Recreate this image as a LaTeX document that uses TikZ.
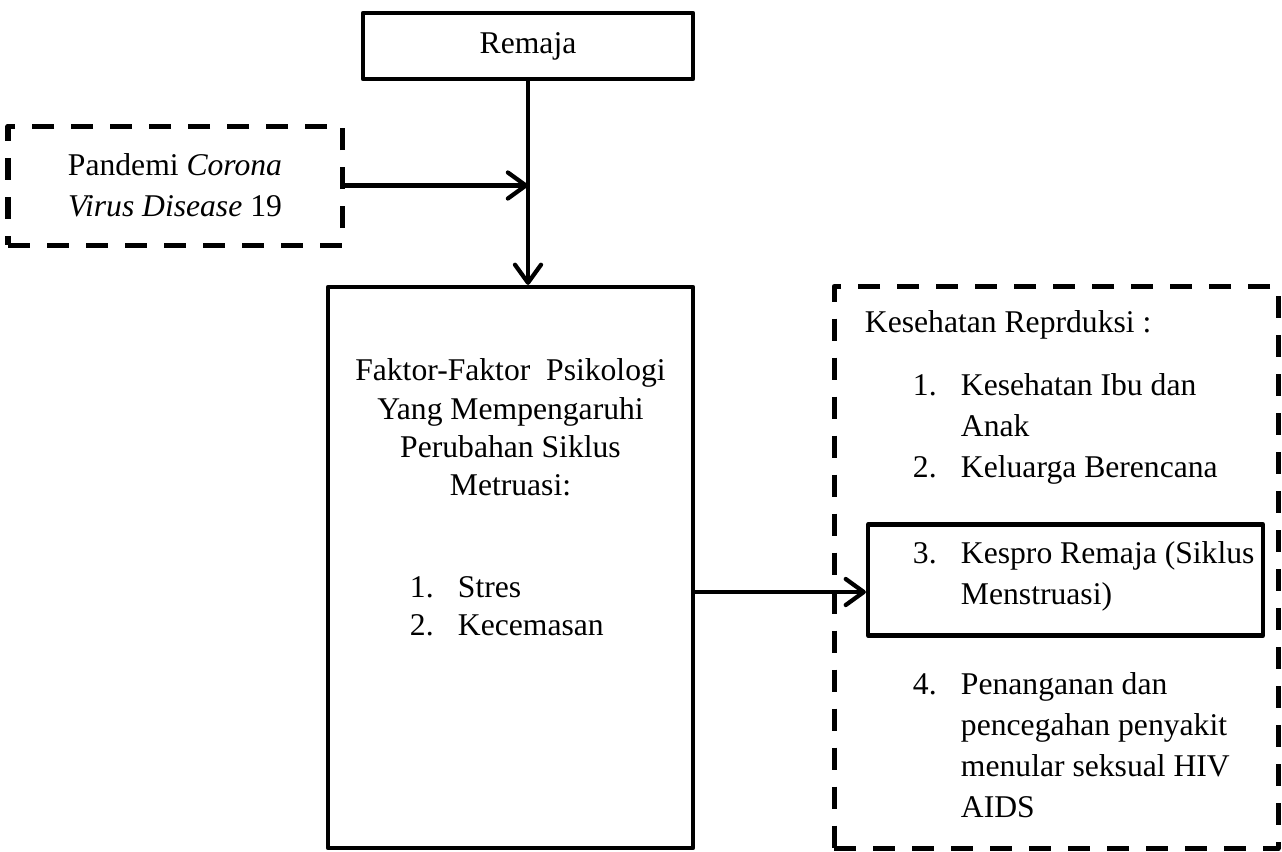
\documentclass[tikz,border=0pt]{standalone}
\usepackage{fontspec}
\setmainfont{Liberation Serif}
\usetikzlibrary{positioning,arrows.meta,calc}

\newcommand{\numitem}[2]{\makebox[0.96cm][l]{#1}#2}
\newcommand{\contline}[1]{\hspace*{0.96cm}#1}

\begin{document}
\begin{tikzpicture}[->,>={Straight Barb[length=0.36cm,width=0.52cm,round]},node distance=2cm,
    line width=0.085cm,line join=round,
    box/.style={draw,rectangle,inner sep=0pt},
    dashbox/.style={draw,rectangle,inner sep=0pt,line width=0.1cm,dash pattern=on 0.44cm off 0.34cm},
    every node/.style={font=\fontsize{18}{23.3}\selectfont}]
    \useasboundingbox (0,0) rectangle (25.64,-17.02);

    \node[box,minimum width=6.6cm,minimum height=1.32cm] (remaja) at (10.56,-0.92) {Remaja};
    \node[dashbox,minimum width=6.68cm,minimum height=2.38cm,align=center,below of = remaja,xshift=-7.06cm,yshift=-0.79cm] (pandemi)
        {Pandemi \textit{Corona}\\\textit{Virus Disease} 19};

    \node[box,minimum width=7.3cm,minimum height=11.22cm,below of = remaja,xshift=-0.35cm,yshift=-8.43cm] (faktor) {};
    \node[align=center,font=\fontsize{18}{21.8}\selectfont] (faktortxt) at (10.21,-8.55)
        {Faktor-Faktor~ Psikologi\\Yang Mempengaruhi\\Perubahan Siklus\\Metruasi:};
    \node[align=left,anchor=west,font=\fontsize{18}{21.8}\selectfont] (faktorlist) at (8.04,-12.12)
        {\numitem{1.}{Stres}\\\numitem{2.}{Kecemasan}};

    \node[dashbox,minimum width=8.88cm,minimum height=11.24cm,right of = faktor,xshift=8.91cm] (kesehatan) {};
    \node[box,minimum width=7.9cm,minimum height=2.22cm,right of = kesehatan,xshift=-1.81cm,yshift=-0.25cm] (kespro) {};

    \node[anchor=west] (kestitle) at (17.14,-6.5) {Kesehatan Reprduksi :};
    \node[align=left,anchor=west] (kesitems) at (18.1,-8.57)
        {\numitem{1.}{Kesehatan Ibu dan}\\\contline{Anak}\\\numitem{2.}{Keluarga Berencana}};
    \node[align=left,anchor=west] (kesprotxt) at (18.1,-11.52)
        {\numitem{3.}{Kespro Remaja (Siklus}\\\contline{Menstruasi)}};
    \node[align=left,anchor=west] (kesitem4) at (18.1,-14.9)
        {\numitem{4.}{Penanganan dan}\\\contline{pencegahan penyakit}\\\contline{menular seksual HIV}\\\contline{AIDS}};

    \coordinate (join) at (pandemi.east -| remaja.south);
    \coordinate (fk) at ([yshift=-0.49cm]faktor.east);

    \path
    (remaja.south) edge (remaja.south |- faktor.north)
    (pandemi.east) edge (join)
    (fk) edge (fk -| kespro.west)
    ;
\end{tikzpicture}
\end{document}
